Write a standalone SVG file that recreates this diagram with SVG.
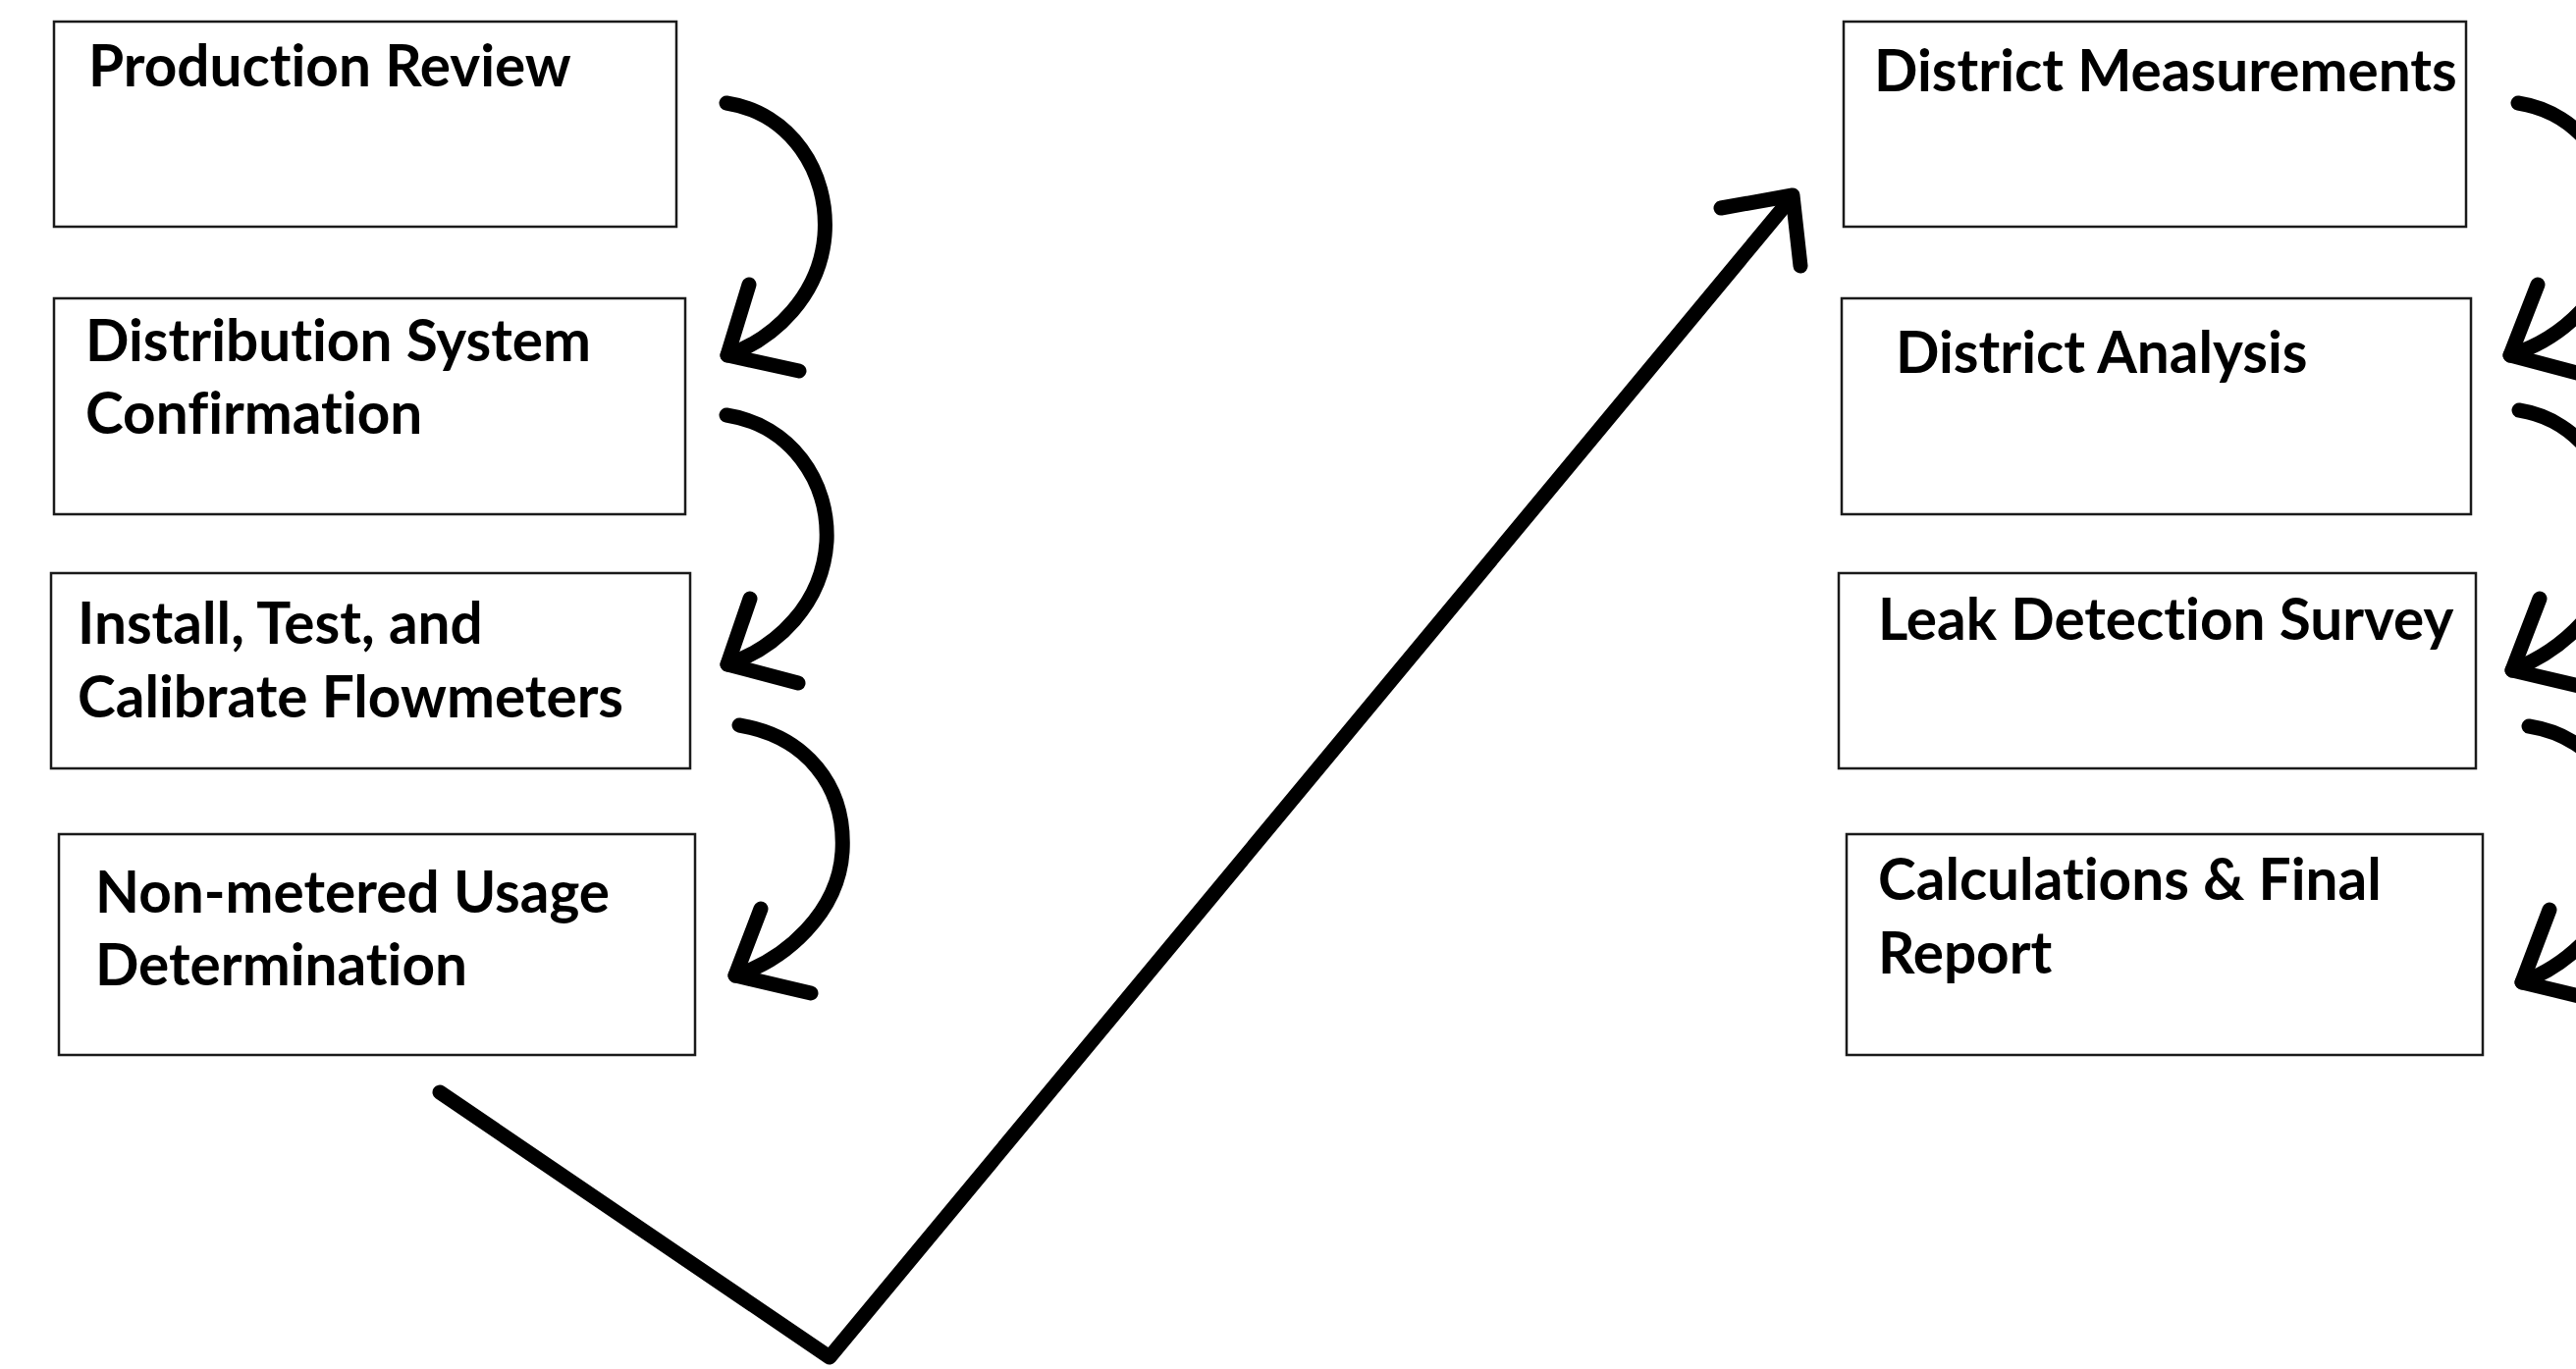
<svg xmlns="http://www.w3.org/2000/svg" width="2624" height="1395" viewBox="0 0 2624 1395">
<style>
.box{fill:#ffffff;stroke:#1a1a1a;stroke-width:2.5}
.lbl{font-family:Lato,"Liberation Sans",sans-serif;font-weight:bold;font-size:58.5px;fill:#000000;font-variant-ligatures:none}
.con{fill:none;stroke:#000000;stroke-width:15;stroke-linecap:round;stroke-linejoin:round}
</style>
<rect x="0" y="0" width="2624" height="1395" fill="#ffffff"/>
<g id="node-production-review">
<rect class="box" x="55" y="22" width="634" height="209"/>
<text class="lbl" x="90" y="88">Production Review</text>
</g>
<g id="node-distribution-system">
<rect class="box" x="55" y="304" width="643" height="220"/>
<text class="lbl" x="87" y="368">Distribution System</text>
<text class="lbl" x="87" y="442">Confirmation</text>
</g>
<g id="node-install-test">
<rect class="box" x="52" y="584" width="651" height="199"/>
<text class="lbl" x="79" y="656">Install, Test, and</text>
<text class="lbl" x="79" y="731">Calibrate Flowmeters</text>
</g>
<g id="node-non-metered">
<rect class="box" x="60" y="850" width="648" height="225"/>
<text class="lbl" x="97" y="930">Non-metered Usage</text>
<text class="lbl" x="97" y="1004">Determination</text>
</g>
<g id="node-district-measurements">
<rect class="box" x="1878" y="22" width="634" height="209"/>
<text class="lbl" x="1909" y="93">District Measurements</text>
</g>
<g id="node-district-analysis">
<rect class="box" x="1876" y="304" width="641" height="220"/>
<text class="lbl" x="1931" y="380">District Analysis</text>
</g>
<g id="node-leak-detection">
<rect class="box" x="1873" y="584" width="649" height="199"/>
<text class="lbl" x="1913" y="652">Leak Detection Survey</text>
</g>
<g id="node-calculations">
<rect class="box" x="1881" y="850" width="648" height="225"/>
<text class="lbl" x="1913" y="917">Calculations &amp; Final</text>
<text class="lbl" x="1913" y="992">Report</text>
</g>
<g id="connectors">
<path class="con" d="M740,105 C805,115 845,175 840,240 C835,300 790,345 741,362"/>
<path class="con" d="M763,290 L741,362 L814,378"/>
<path class="con" d="M740,423 C805,433 845,490 842,552 C838,615 792,660 741,677"/>
<path class="con" d="M764,610 L741,677 L813,696"/>
<path class="con" d="M753,739 C820,750 862,800 858,868 C854,930 800,978 749,994"/>
<path class="con" d="M775,926 L749,994 L826,1012"/>
<path class="con" d="M2565,105 C2630,115 2670,175 2665,240 C2660,300 2610,345 2557,362"/>
<path class="con" d="M2585,290 L2557,362 L2640,384"/>
<path class="con" d="M2566,418 C2630,428 2670,490 2667,552 C2663,615 2612,662 2559,683"/>
<path class="con" d="M2587,610 L2559,683 L2640,702"/>
<path class="con" d="M2576,740 C2640,750 2680,805 2677,868 C2673,930 2620,982 2569,1001"/>
<path class="con" d="M2597,927 L2569,1001 L2640,1018"/>
<path class="con" d="M448,1113 L845,1383 L1822,205"/>
<path class="con" d="M1753,212 L1826,199 L1834,271"/>
</g>
</svg>
